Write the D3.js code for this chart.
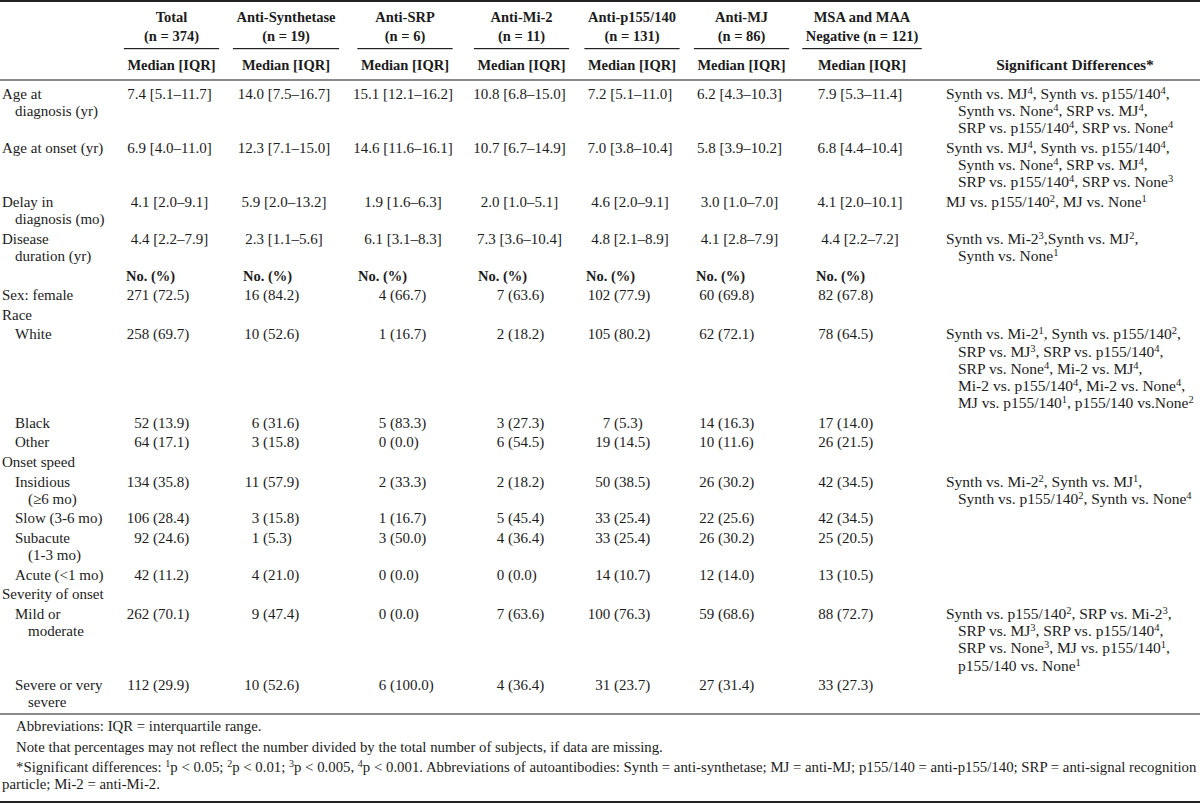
<!DOCTYPE html>
<html><head><meta charset="utf-8">
<script src="https://cdn.jsdelivr.net/npm/d3@7"></script>
<style>html,body{margin:0;padding:0;background:#fff;} svg{display:block;}</style>
</head><body><div id="chart"></div>
<script>
// ---------- DATA ----------
const groups = ["Total","Anti-Synthetase","Anti-SRP","Anti-Mi-2","Anti-p155/140","Anti-MJ","MSA and MAA"];
const groupN = ["(n = 374)","(n = 19)","(n = 6)","(n = 11)","(n = 131)","(n = 86)","Negative (n = 121)"];

const rowLabels = [
  ["Age at","diagnosis (yr)"],
  ["Age at onset (yr)"],
  ["Delay in","diagnosis (mo)"],
  ["Disease","duration (yr)"],
  [""],
  ["Sex: female"],
  ["Race"],
  ["White"],
  ["Black"],
  ["Other"],
  ["Onset speed"],
  ["Insidious","(≥6 mo)"],
  ["Slow (3-6 mo)"],
  ["Subacute","(1-3 mo)"],
  ["Acute (<1 mo)"],
  ["Severity of onset"],
  ["Mild or","moderate"],
  ["Severe or very","severe"]
];
const rowLevel = [0,0,0,0,0,0,0,1,1,1,0,1,1,1,1,0,1,1];

const ageDiagnosis    = ["7.4 [5.1–11.7]","14.0 [7.5–16.7]","15.1 [12.1–16.2]","10.8 [6.8–15.0]","7.2 [5.1–11.0]","6.2 [4.3–10.3]","7.9 [5.3–11.4]"];
const ageOnset        = ["6.9 [4.0–11.0]","12.3 [7.1–15.0]","14.6 [11.6–16.1]","10.7 [6.7–14.9]","7.0 [3.8–10.4]","5.8 [3.9–10.2]","6.8 [4.4–10.4]"];
const delayDiagnosis  = ["4.1 [2.0–9.1]","5.9 [2.0–13.2]","1.9 [1.6–6.3]","2.0 [1.0–5.1]","4.6 [2.0–9.1]","3.0 [1.0–7.0]","4.1 [2.0–10.1]"];
const diseaseDuration = ["4.4 [2.2–7.9]","2.3 [1.1–5.6]","6.1 [3.1–8.3]","7.3 [3.6–10.4]","4.8 [2.1–8.9]","4.1 [2.8–7.9]","4.4 [2.2–7.2]"];

const sexFemale = [[271,"72.5"],[16,"84.2"],[4,"66.7"],[7,"63.6"],[102,"77.9"],[60,"69.8"],[82,"67.8"]];
const raceWhite = [[258,"69.7"],[10,"52.6"],[1,"16.7"],[2,"18.2"],[105,"80.2"],[62,"72.1"],[78,"64.5"]];
const raceBlack = [[52,"13.9"],[6,"31.6"],[5,"83.3"],[3,"27.3"],[7,"5.3"],[14,"16.3"],[17,"14.0"]];
const raceOther = [[64,"17.1"],[3,"15.8"],[0,"0.0"],[6,"54.5"],[19,"14.5"],[10,"11.6"],[26,"21.5"]];
const onsetInsidious = [[134,"35.8"],[11,"57.9"],[2,"33.3"],[2,"18.2"],[50,"38.5"],[26,"30.2"],[42,"34.5"]];
const onsetSlow      = [[106,"28.4"],[3,"15.8"],[1,"16.7"],[5,"45.4"],[33,"25.4"],[22,"25.6"],[42,"34.5"]];
const onsetSubacute  = [[92,"24.6"],[1,"5.3"],[3,"50.0"],[4,"36.4"],[33,"25.4"],[26,"30.2"],[25,"20.5"]];
const onsetAcute     = [[42,"11.2"],[4,"21.0"],[0,"0.0"],[0,"0.0"],[14,"10.7"],[12,"14.0"],[13,"10.5"]];
const severityMild   = [[262,"70.1"],[9,"47.4"],[0,"0.0"],[7,"63.6"],[100,"76.3"],[59,"68.6"],[88,"72.7"]];
const severitySevere = [[112,"29.9"],[10,"52.6"],[6,"100.0"],[4,"36.4"],[31,"23.7"],[27,"31.4"],[33,"27.3"]];

const sigAgeDiagnosis = ["Synth vs. MJ^4, Synth vs. p155/140^4,","Synth vs. None^4, SRP vs. MJ^4,","SRP vs. p155/140^4, SRP vs. None^4"];
const sigAgeOnset     = ["Synth vs. MJ^4, Synth vs. p155/140^4,","Synth vs. None^4, SRP vs. MJ^4,","SRP vs. p155/140^4, SRP vs. None^3"];
const sigDelay        = ["MJ vs. p155/140^2, MJ vs. None^1"];
const sigDuration     = ["Synth vs. Mi-2^3,Synth vs. MJ^2,","Synth vs. None^1"];
const sigWhite        = ["Synth vs. Mi-2^1, Synth vs. p155/140^2,","SRP vs. MJ^3, SRP vs. p155/140^4,","SRP vs. None^4, Mi-2 vs. MJ^4,","Mi-2 vs. p155/140^4, Mi-2 vs. None^4,","MJ vs. p155/140^1, p155/140 vs.None^2"];
const sigInsidious    = ["Synth vs. Mi-2^2, Synth vs. MJ^1,","Synth vs. p155/140^2, Synth vs. None^4"];
const sigMild         = ["Synth vs. p155/140^2, SRP vs. Mi-2^3,","SRP vs. MJ^3, SRP vs. p155/140^4,","SRP vs. None^3, MJ vs. p155/140^1,","p155/140 vs. None^1"];

const footnotes = [
  "Abbreviations: IQR = interquartile range.",
  "Note that percentages may not reflect the number divided by the total number of subjects, if data are missing.",
  "*Significant differences: ^1p < 0.05; ^2p < 0.01; ^3p < 0.005, ^4p < 0.001. Abbreviations of autoantibodies: Synth = anti-synthetase; MJ = anti-MJ; p155/140 = anti-p155/140; SRP = anti-signal recognition",
  "particle; Mi-2 = anti-Mi-2."
];

// ---------- LAYOUT ----------
const W = 1200, H = 805;
const FONT = "'Liberation Serif','Times New Roman',Times,serif";
const ink = "#1c1c1c";
const FS = 15;

const svg = d3.select("#chart").append("svg")
  .attr("width", W).attr("height", H)
  .style("font-family", FONT).style("font-size", FS + "px").attr("fill", ink);
svg.append("rect").attr("width", W).attr("height", H).attr("fill", "#fff");

const colX   = d3.scaleOrdinal(groups, [171.5, 286, 405, 521.5, 632, 741.5, 862]);
const parenX = d3.scaleOrdinal(groups, [153, 263, 390, 508, 614, 718, 837]);
const noX    = d3.scaleOrdinal(groups, [126, 243, 358, 478, 586, 696, 816]);

function rich(sel, str, supSize) {
  const parts = str.split(/\^(\d)/);
  let raised = false;
  parts.forEach((p, i) => {
    if (i % 2 === 1) {
      sel.append("tspan").attr("dy", -5).style("font-size", supSize + "px").text(p);
      raised = true;
    } else if (p.length) {
      const t = sel.append("tspan").text(p);
      if (raised) { t.attr("dy", 5); raised = false; }
    }
  });
}

// rules
svg.append("rect").attr("x", 0).attr("y", 0).attr("width", W).attr("height", 2).attr("fill", "#222");
svg.append("rect").attr("x", 0).attr("y", 79).attr("width", W).attr("height", 2).attr("fill", "#8a8a8a");
svg.append("rect").attr("x", 0).attr("y", 713).attr("width", W).attr("height", 2).attr("fill", "#8a8a8a");
svg.append("rect").attr("x", 0).attr("y", 801).attr("width", W).attr("height", 2).attr("fill", "#222");

// header
const head = svg.append("g").style("font-weight", "bold").style("font-size", "14.5px");
groups.forEach((g, i) => {
  const t1 = head.append("text").attr("x", colX(g)).attr("y", 22).attr("text-anchor", "middle").text(g);
  const t2 = head.append("text").attr("x", colX(g)).attr("y", 41).attr("text-anchor", "middle").text(groupN[i]);
  const t3 = head.append("text").attr("x", colX(g)).attr("y", 70).attr("text-anchor", "middle").text("Median [IQR]");
  const w = Math.max(t1.node().getComputedTextLength(), t2.node().getComputedTextLength(), t3.node().getComputedTextLength()) + 7;
  svg.append("rect").attr("x", colX(g) - w / 2).attr("y", 48).attr("width", w).attr("height", 1.2).attr("fill", "#222");
});
head.append("text").attr("x", 1075).attr("y", 70).attr("text-anchor", "middle")
  .style("font-size", "15.5px").text("Significant Differences*");

// body rows
const rowMed = [ageDiagnosis, ageOnset, delayDiagnosis, diseaseDuration];
const rowCnt = {5: sexFemale, 7: raceWhite, 8: raceBlack, 9: raceOther, 11: onsetInsidious, 12: onsetSlow,
                13: onsetSubacute, 14: onsetAcute, 16: severityMild, 17: severitySevere};
const rowSig = {0: sigAgeDiagnosis, 1: sigAgeOnset, 2: sigDelay, 3: sigDuration, 7: sigWhite, 11: sigInsidious, 16: sigMild};

const LH = 17.2, GAP = 2.4;
const yLine = d3.scaleLinear().domain([0, 1]).range([99, 99 + LH]);
let acc = 0;
const rowStart = rowLabels.map((lab, i) => {
  const s = acc;
  acc += Math.max(lab.length, rowSig[i] ? rowSig[i].length : 1);
  return s;
});
const rowY = i => yLine(rowStart[i]) + i * GAP;

const body = svg.append("g");
rowLabels.forEach((lab, i) => {
  const y0 = rowY(i);
  const baseX = rowLevel[i] ? 15 : 2;
  lab.forEach((l, k) => {
    body.append("text").attr("x", k === 0 ? baseX : baseX + 13).attr("y", y0 + k * LH).text(l);
  });
  if (i < 4) {
    groups.forEach((g, j) => {
      body.append("text").attr("x", colX(g) - 2).attr("y", y0).attr("text-anchor", "middle").text(rowMed[i][j]);
    });
  }
  if (i === 4) {
    groups.forEach(g => {
      body.append("text").attr("x", noX(g)).attr("y", y0).style("font-weight", "bold").style("font-size", "14.5px").text("No. (%)");
    });
  }
  if (rowCnt[i]) {
    groups.forEach((g, j) => {
      const [n, p] = rowCnt[i][j];
      body.append("text").attr("x", parenX(g) - 3.7).attr("y", y0).attr("text-anchor", "end").text(n);
      body.append("text").attr("x", parenX(g)).attr("y", y0).text("(" + p + ")");
    });
  }
  if (rowSig[i]) {
    rowSig[i].forEach((s, k) => {
      const t = body.append("text").attr("x", k === 0 ? 946 : 958).attr("y", y0 + k * LH)
        .style("font-size", "15.5px");
      rich(t, s, 10.5);
    });
  }
});

// footnotes
const foot = svg.append("g").style("font-size", "14.8px");
const fy = [731, 752, 772, 789];
const fx = [16, 16, 16, 2];
footnotes.forEach((f, i) => {
  const t = foot.append("text").attr("x", fx[i]).attr("y", fy[i]);
  rich(t, f, 10);
});
</script>
</body></html>
